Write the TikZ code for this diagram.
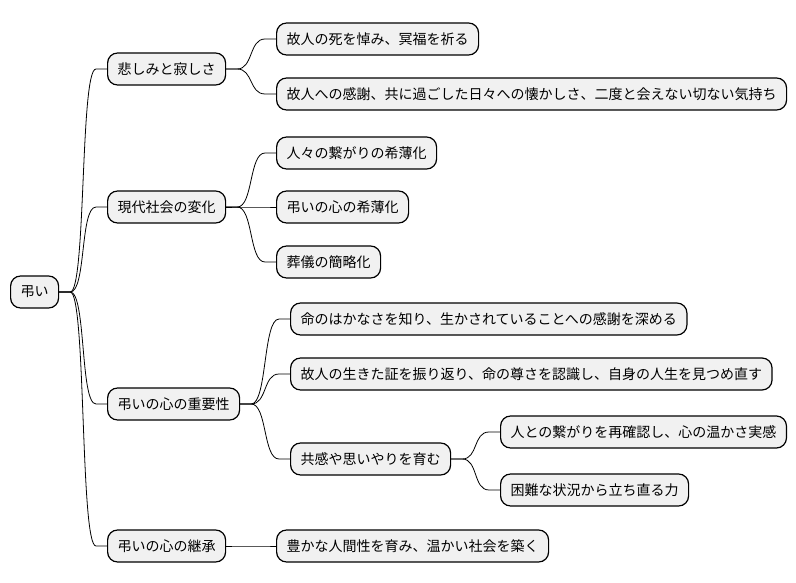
\documentclass[tikz,border=0pt]{standalone}
\usepackage{fontspec}
\setmainfont{Noto Sans CJK JP}
\usetikzlibrary{calc}

\definecolor{caixa}{RGB}{241,241,241}

\tikzset{
    caixa/.style={draw=black, line width=1.2pt, fill=caixa, rounded corners=10pt,
        anchor=west, minimum height=32pt, inner xsep=10pt, inner ysep=0pt,
        font=\fontsize{14}{16}\selectfont},
    ramo/.style={black, line width=0.8pt}
}

\newcommand{\ramo}[2]{\draw[ramo] (#1.east) -- ++(11,0) .. controls +(16,0) and +(-16,0) .. ($(#2.west)+(-11,0)$) -- (#2.west);}

\begin{document}
\begin{tikzpicture}[x=1pt, y=-1pt]
        \useasboundingbox (0,0) rectangle (796,583);

        % raiz
        \node[caixa] (raiz) at (10,292) {弔い};

        % primeiro nivel
        \node[caixa] (tristeza) at (107,69) {悲しみと寂しさ};
        \node[caixa] (sociedade) at (107,207) {現代社会の変化};
        \node[caixa] (importancia) at (107,404) {弔いの心の重要性};
        \node[caixa] (heranca) at (107,546) {弔いの心の継承};

        % segundo nivel
        \node[caixa] (t1) at (276,39) {故人の死を悼み、冥福を祈る};
        \node[caixa] (t2) at (276,94) {故人への感謝、共に過ごした日々への懐かしさ、二度と会えない切ない気持ち};
        \node[caixa] (s1) at (276,153) {人々の繋がりの希薄化};
        \node[caixa] (s2) at (276,207) {弔いの心の希薄化};
        \node[caixa] (s3) at (276,262) {葬儀の簡略化};
        \node[caixa] (i1) at (290,319) {命のはかなさを知り、生かされていることへの感謝を深める};
        \node[caixa] (i2) at (290,374) {故人の生きた証を振り返り、命の尊さを認識し、自身の人生を見つめ直す};
        \node[caixa] (i3) at (290,459) {共感や思いやりを育む};
        \node[caixa] (h1) at (276,546) {豊かな人間性を育み、温かい社会を築く};

        % terceiro nivel
        \node[caixa] (i3a) at (500,432) {人との繋がりを再確認し、心の温かさ実感};
        \node[caixa] (i3b) at (500,490) {困難な状況から立ち直る力};

        % ligacoes
        \ramo{raiz}{tristeza}
        \ramo{raiz}{sociedade}
        \ramo{raiz}{importancia}
        \ramo{raiz}{heranca}
        \ramo{tristeza}{t1}
        \ramo{tristeza}{t2}
        \ramo{sociedade}{s1}
        \ramo{sociedade}{s2}
        \ramo{sociedade}{s3}
        \ramo{importancia}{i1}
        \ramo{importancia}{i2}
        \ramo{importancia}{i3}
        \ramo{heranca}{h1}
        \ramo{i3}{i3a}
        \ramo{i3}{i3b}
    \end{tikzpicture}
\end{document}
